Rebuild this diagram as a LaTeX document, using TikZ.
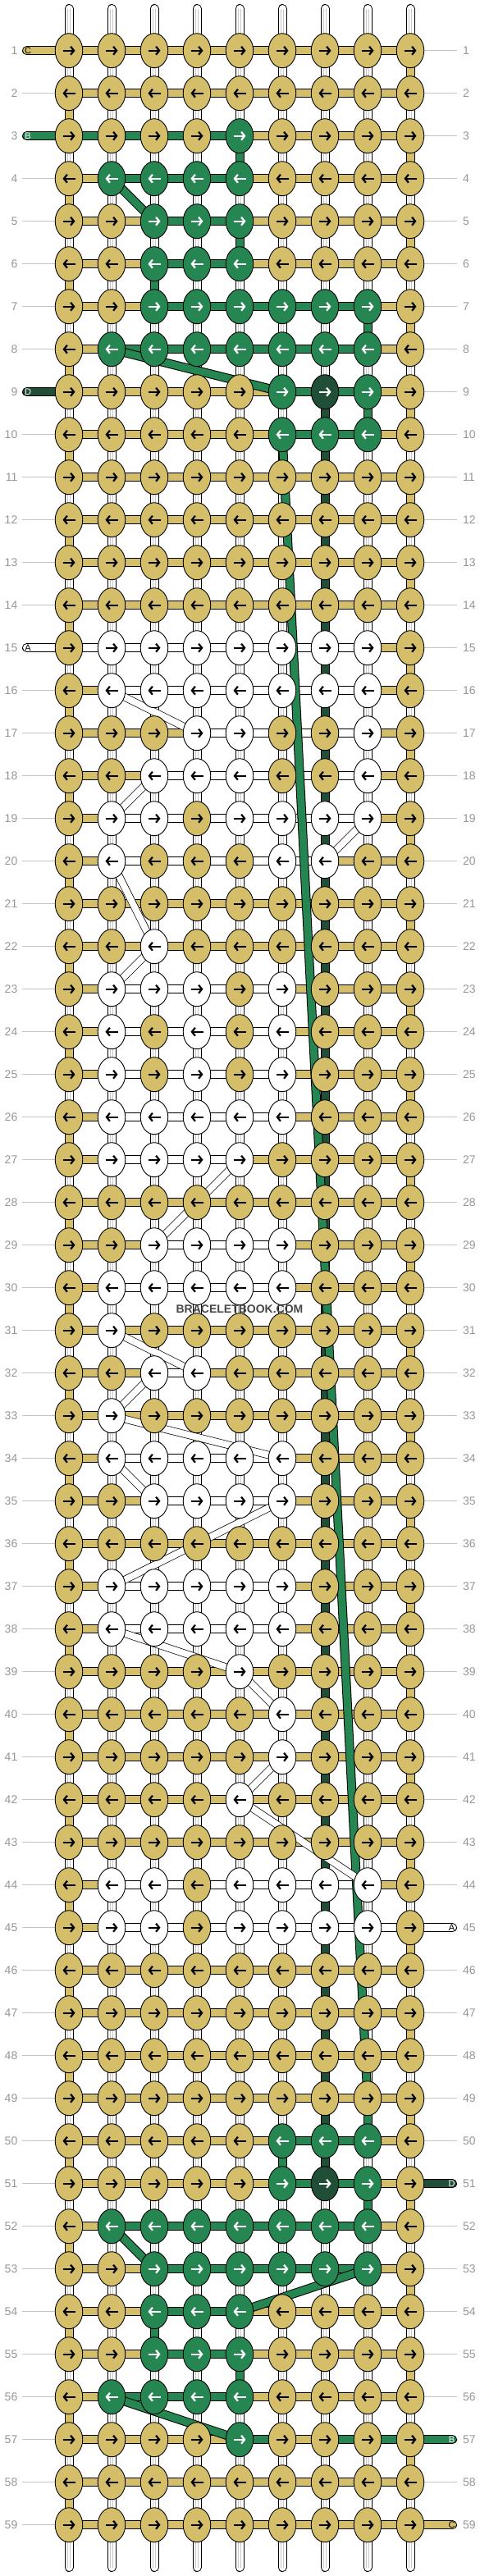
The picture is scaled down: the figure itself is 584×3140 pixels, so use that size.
\documentclass[tikz,border=0pt]{standalone}
\usepackage{fontspec}
\setmainfont{Liberation Sans}
\usepackage{tikz}
\usetikzlibrary{shapes}
\usetikzlibrary{arrows.meta}

\definecolor{colA}{RGB}{255,255,255}
\definecolor{colB}{RGB}{38,134,82}
\definecolor{colC}{RGB}{212,190,106}
\definecolor{colD}{RGB}{33,78,55}
\definecolor{numgray}{RGB}{150,150,150}
\definecolor{guidegray}{RGB}{195,195,195}

\tikzset{
  knotnode/.style={ellipse, draw=black, line width=0.9pt, minimum width=33.5pt, minimum height=42pt, inner sep=0pt},
  inkA/.style={black}, inkB/.style={white}, inkC/.style={black}, inkD/.style={white},
  arr/.style={line width=2.2pt, -{Straight Barb[length=4pt,width=10pt]}},
  strand/.style={draw=black, line width=1pt, double distance=9pt, double=#1},
  warp/.style={draw=black, line width=1pt, double distance=9pt, double=white},
  warpgrain/.style={draw=black!22, line width=0.8pt, double distance=2.4pt, double=white},
  carry/.style={draw=black, line width=0.7pt, double distance=8pt, double=white},
  guide/.style={draw=guidegray, line width=1pt},
  rownum/.style={text=numgray, font=\fontsize{14}{14}\selectfont, inner sep=0pt},
  tabtext/.style={font=\fontsize{11}{11}\selectfont, inner sep=0pt},
}

\def\knotrows{%
1/{C,C,C,C,C,C,C,C,C}/{C,C,C,C,C,C,C,C},%
2/{C,C,C,C,C,C,C,C,C}/{C,C,C,C,C,C,C,C},%
3/{C,C,C,C,B,C,C,C,C}/{B,B,B,B,C,C,C,C},%
4/{C,B,B,B,B,C,C,C,C}/{C,B,B,B,C,C,C,C},%
5/{C,C,B,B,B,C,C,C,C}/{C,C,B,B,C,C,C,C},%
6/{C,C,B,B,B,C,C,C,C}/{C,C,B,B,C,C,C,C},%
7/{C,C,B,B,B,B,B,B,C}/{C,C,B,B,B,B,B,C},%
8/{C,B,B,B,B,B,B,B,C}/{C,B,B,B,B,B,B,C},%
9/{C,C,C,C,C,B,D,B,C}/{C,C,C,C,C,B,B,C},%
10/{C,C,C,C,C,B,B,B,C}/{C,C,C,C,C,B,B,C},%
11/{C,C,C,C,C,C,C,C,C}/{C,C,C,C,C,C,C,C},%
12/{C,C,C,C,C,C,C,C,C}/{C,C,C,C,C,C,C,C},%
13/{C,C,C,C,C,C,C,C,C}/{C,C,C,C,C,C,C,C},%
14/{C,C,C,C,C,C,C,C,C}/{C,C,C,C,C,C,C,C},%
15/{C,A,A,A,A,A,A,A,C}/{A,A,A,A,A,A,A,C},%
16/{C,A,A,A,A,A,A,A,C}/{C,A,A,A,A,A,A,C},%
17/{C,C,C,A,A,C,C,A,C}/{C,C,C,A,A,A,A,C},%
18/{C,C,A,A,A,C,C,A,C}/{C,C,A,A,A,A,A,C},%
19/{C,A,A,C,A,A,A,A,C}/{C,A,A,A,A,A,A,C},%
20/{C,A,C,C,C,A,A,C,C}/{C,A,A,A,A,A,C,C},%
21/{C,C,C,C,C,C,C,C,C}/{C,C,C,C,C,C,C,C},%
22/{C,C,A,C,C,C,C,C,C}/{C,C,C,C,C,C,C,C},%
23/{C,A,A,A,C,A,C,C,C}/{C,A,A,A,A,C,C,C},%
24/{C,A,C,A,C,A,C,C,C}/{C,A,A,A,A,C,C,C},%
25/{C,A,C,A,C,A,C,C,C}/{C,A,A,A,A,C,C,C},%
26/{C,A,A,A,A,A,C,C,C}/{C,A,A,A,A,C,C,C},%
27/{C,A,A,A,A,C,C,C,C}/{C,A,A,A,C,C,C,C},%
28/{C,C,C,C,C,C,C,C,C}/{C,C,C,C,C,C,C,C},%
29/{C,C,A,A,A,A,C,C,C}/{C,C,A,A,A,C,C,C},%
30/{C,A,A,A,A,A,C,C,C}/{C,A,A,A,A,C,C,C},%
31/{C,A,C,C,C,C,C,C,C}/{C,C,C,C,C,C,C,C},%
32/{C,C,A,A,C,C,C,C,C}/{C,C,A,C,C,C,C,C},%
33/{C,A,C,C,C,C,C,C,C}/{C,C,C,C,C,C,C,C},%
34/{C,A,A,A,A,A,C,C,C}/{C,A,A,A,A,C,C,C},%
35/{C,C,A,A,A,A,C,C,C}/{C,C,A,A,A,C,C,C},%
36/{C,C,C,C,C,C,C,C,C}/{C,C,C,C,C,C,C,C},%
37/{C,A,A,A,A,A,C,C,C}/{C,A,A,A,A,C,C,C},%
38/{C,A,A,A,A,A,C,C,C}/{C,A,A,A,A,C,C,C},%
39/{C,C,C,C,A,C,C,C,C}/{C,C,C,C,C,C,C,C},%
40/{C,C,C,C,C,A,C,C,C}/{C,C,C,C,C,C,C,C},%
41/{C,C,C,C,C,A,C,C,C}/{C,C,C,C,C,C,C,C},%
42/{C,C,C,C,A,C,C,C,C}/{C,C,C,C,C,C,C,C},%
43/{C,C,C,C,C,C,C,C,C}/{C,C,C,C,C,C,C,C},%
44/{C,A,A,C,A,A,A,A,C}/{C,A,A,A,A,A,A,C},%
45/{C,A,A,C,A,A,A,A,C}/{C,A,A,A,A,A,A,A},%
46/{C,C,C,C,C,C,C,C,C}/{C,C,C,C,C,C,C,C},%
47/{C,C,C,C,C,C,C,C,C}/{C,C,C,C,C,C,C,C},%
48/{C,C,C,C,C,C,C,C,C}/{C,C,C,C,C,C,C,C},%
49/{C,C,C,C,C,C,C,C,C}/{C,C,C,C,C,C,C,C},%
50/{C,C,C,C,C,B,B,B,C}/{C,C,C,C,C,B,B,C},%
51/{C,C,C,C,C,B,D,B,C}/{C,C,C,C,C,B,B,C},%
52/{C,B,B,B,B,B,B,B,C}/{C,B,B,B,B,B,B,C},%
53/{C,C,B,B,B,B,B,B,C}/{C,C,B,B,B,B,B,C},%
54/{C,C,B,B,B,C,C,C,C}/{C,C,B,B,C,C,C,C},%
55/{C,C,B,B,B,C,C,C,C}/{C,C,B,B,C,C,C,C},%
56/{C,B,B,B,B,C,C,C,C}/{C,B,B,B,C,C,C,C},%
57/{C,C,C,C,B,C,C,C,C}/{C,C,C,C,B,C,B,B},%
58/{C,C,C,C,C,C,C,C,C}/{C,C,C,C,C,C,C,C},%
59/{C,C,C,C,C,C,C,C,C}/{C,C,C,C,C,C,C,C}%
}

\begin{document}
\begin{tikzpicture}[x=1pt, y=-1pt]
\useasboundingbox (0,0) rectangle (584,3140);

\foreach \r in {1,...,59} {
  \foreach \c in {1,...,9} {
    \coordinate (p-\r-\c) at ({84+52*(\c-1)}, {61.7+52*(\r-1)});
  }
  \coordinate (l-\r) at (27, {61.7+52*(\r-1)});
  \coordinate (q-\r) at (557, {61.7+52*(\r-1)});
  \node[rownum, anchor=east] (nl-\r) at ([xshift=-5.5pt]l-\r) {\r};
  \node[rownum, anchor=west] (nr-\r) at ([xshift=7pt]q-\r) {\r};
}

\foreach \r in {2,4,5,6,7,8,10,11,12,13,14,16,17,...,59}
  \draw[guide] (l-\r) -- (p-\r-1);
\foreach \r in {1,2,...,44,46,47,48,49,50,52,53,54,55,56,58}
  \draw[guide] (p-\r-9) -- (q-\r);

\foreach \c in {1,...,9} {
  \coordinate (top-\c) at ({84+52*(\c-1)}, 10.5);
  \coordinate (bot-\c) at ({84+52*(\c-1)}, 3129.5);
  \draw[warp, line cap=round] (top-\c) -- (p-1-\c);
  \draw[warpgrain] (top-\c) -- (p-1-\c);
  \draw[warp, line cap=round] (p-59-\c) -- (bot-\c);
  \draw[warpgrain] (p-59-\c) -- (bot-\c);
}

\foreach \r in {1,...,58} {
  \pgfmathtruncatemacro\nr{\r+1}
  \foreach \c in {1,...,9} {
    \draw[warp] (p-\r-\c) -- (p-\nr-\c);
    \draw[warpgrain] (p-\r-\c) -- (p-\nr-\c);
  }
}

\foreach \r in {2,4,...,58} {
  \pgfmathtruncatemacro\nr{\r+1}
  \draw[strand=colC] (p-\r-1) -- (p-\nr-1);
}
\foreach \r in {1,3,...,57} {
  \pgfmathtruncatemacro\nr{\r+1}
  \draw[strand=colC] (p-\r-9) -- (p-\nr-9);
}
\foreach \r in {9,...,50} {
  \pgfmathtruncatemacro\nr{\r+1}
  \draw[strand=colD] (p-\r-7) -- (p-\nr-7);
}
\foreach \r/\c in {3/5,5/5,6/3,7/8,9/8,49/8,50/6,51/8,54/3,55/5} {
  \pgfmathtruncatemacro\nr{\r+1}
  \draw[strand=colB] (p-\r-\c) -- (p-\nr-\c);
}

\foreach \r/\ks/\hs in \knotrows {
  \foreach \k [count=\c] in \hs {
    \pgfmathtruncatemacro\nx{\c+1}
    \draw[strand=col\k] (p-\r-\c) -- (p-\r-\nx);
  }
}

\foreach \r/\k in {1/C,3/B,9/D,15/A} {
  \coordinate (tl-\r) at ([xshift=5.5pt]l-\r);
  \draw[strand=col\k, line cap=round] (tl-\r) -- (p-\r-1);
  \node[tabtext, ink\k] (tt-\r) at ([xshift=7pt]l-\r) {\k};
}
\foreach \r/\k in {45/A,51/D,57/B,59/C} {
  \coordinate (tr-\r) at ([xshift=-5.5pt]q-\r);
  \draw[strand=col\k, line cap=round] (p-\r-9) -- (tr-\r);
  \node[tabtext, ink\k] (ts-\r) at ([xshift=-6.5pt]q-\r) {\k};
}

\draw[strand=colB] (p-10-6) -- (p-49-8);
\foreach \ra/\ca/\rb/\cb in {4/2/5/3, 8/2/9/6, 52/2/53/3, 53/8/54/5, 56/2/57/5}
  \draw[strand=colB] (p-\ra-\ca) -- (p-\rb-\cb);

\foreach \ra/\ca/\rb/\cb in {16/2/17/4, 18/3/19/2, 19/8/20/7, 20/2/22/3, 22/3/23/2, 27/5/29/3, 31/2/32/4, 32/3/33/2, 33/2/34/6, 34/2/35/3, 35/6/37/2, 38/2/39/5, 39/5/40/6, 41/6/42/5, 42/5/44/8}
  \draw[carry] (p-\ra-\ca) -- (p-\rb-\cb);

\foreach \r/\ks/\hs in \knotrows {
  \foreach \k [count=\c] in \ks {
    \node[knotnode, fill=col\k] (k-\r-\c) at (p-\r-\c) {};
    \ifodd\r\relax
      \draw[arr, ink\k] ([xshift=-7.5pt]k-\r-\c.center) -- ([xshift=7.5pt]k-\r-\c.center);
    \else
      \draw[arr, ink\k] ([xshift=7.5pt]k-\r-\c.center) -- ([xshift=-7.5pt]k-\r-\c.center);
    \fi
  }
}

\node[font=\bfseries\fontsize{14}{14}\selectfont, text=black!72] (mark) at (292,1596) {BRACELETBOOK.COM};

\end{tikzpicture}
\end{document}
